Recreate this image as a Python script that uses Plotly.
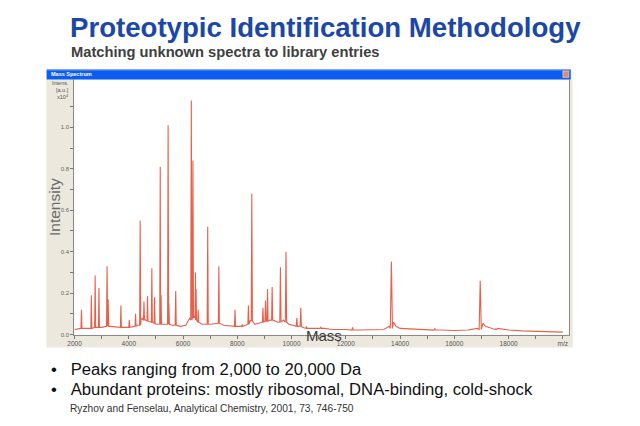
import plotly.graph_objects as go

# ---------------- data ----------------
peak_mass = [2255, 2620, 2760, 2900, 3200, 3240, 3710, 4020, 4250, 4420, 4560, 4690,
             4850, 4950, 5160, 5190, 5450, 5480, 5730, 6305, 6365, 6460, 6480, 6560,
             6910, 7320, 7915, 8180, 8410, 8535, 8945, 9040, 9115, 9285, 9590, 9795,
             10195, 10340, 10550, 11080, 12250, 13680, 15280, 16955, 17530]
peak_int = [0.12, 0.19, 0.285, 0.225, 0.33, 0.17, 0.14, 0.07, 0.10, 0.55, 0.16, 0.185,
            0.32, 0.18, 0.81, 0.19, 1.01, 0.15, 0.21, 1.13, 0.84, 0.30, 0.22, 0.12,
            0.52, 0.33, 0.12, 0.05, 0.14, 0.68, 0.13, 0.165, 0.22, 0.23, 0.325, 0.40,
            0.08, 0.13, 0.04, 0.035, 0.035, 0.353, 0.03, 0.26, 0.028]
peak_base = [0.03, 0.03, 0.035, 0.035, 0.04, 0.04, 0.035, 0.035, 0.04, 0.045, 0.07, 0.065,
             0.06, 0.055, 0.05, 0.05, 0.05, 0.05, 0.045, 0.07, 0.08, 0.08, 0.07, 0.06,
             0.05, 0.055, 0.04, 0.04, 0.05, 0.065, 0.06, 0.065, 0.065, 0.07, 0.06, 0.06,
             0.04, 0.04, 0.03, 0.03, 0.022, 0.03, 0.022, 0.025, 0.025]
peak_width = [18, 18, 18, 18, 20, 18, 18, 18, 18, 20, 18, 18,
              18, 18, 20, 18, 20, 18, 20, 22, 20, 18, 18, 18,
              20, 20, 20, 18, 20, 22, 20, 20, 20, 20, 24, 24,
              24, 24, 24, 24, 26, 40, 30, 40, 30]

base_mass = [2000, 2200, 2500, 3000, 3300, 3600, 4000, 4300, 4450, 4500, 4550, 4600,
             4700, 5000, 5300, 5600, 5900, 6100, 6250, 6420, 6550, 6700, 7000, 7200,
             7500, 7800, 8100, 8300, 8480, 8650, 8900, 9200, 9500, 9700, 9900, 10100,
             10400, 10800, 11200, 11500, 12000, 12500, 13000, 13400, 13600, 13760, 13850,
             14000, 14500, 15000, 15500, 16000, 16500, 16850, 17060, 17150, 17300, 17600,
             18000, 18500, 19000, 19500, 20000]
base_int = [0.025, 0.03, 0.03, 0.035, 0.04, 0.035, 0.035, 0.045, 0.07, 0.078, 0.065, 0.072,
            0.06, 0.05, 0.05, 0.045, 0.04, 0.045, 0.08, 0.09, 0.06, 0.05, 0.05, 0.055,
            0.045, 0.04, 0.04, 0.045, 0.07, 0.05, 0.06, 0.07, 0.06, 0.07, 0.05, 0.04,
            0.035, 0.03, 0.03, 0.025, 0.025, 0.022, 0.022, 0.025, 0.04, 0.06, 0.04,
            0.03, 0.028, 0.025, 0.022, 0.02, 0.022, 0.03, 0.055, 0.04, 0.035, 0.03,
            0.022, 0.018, 0.015, 0.013, 0.012]

x_tick_vals = [2000, 4000, 6000, 8000, 10000, 12000, 14000, 16000, 18000, 20000]
x_tick_text = ["2000", "4000", "6000", "8000", "10000", "12000", "14000", "16000", "18000", "m/z"]
x_minor_vals = [3000, 5000, 7000, 9000, 11000, 13000, 15000, 17000, 19000]
y_tick_vals = [0.0, 0.2, 0.4, 0.6, 0.8, 1.0]
y_tick_text = ["0.0", "0.2", "0.4", "0.6", "0.8", "1.0"]
y_minor_vals = [0.1, 0.3, 0.5, 0.7, 0.9, 1.1]

title = "Proteotypic Identification Methodology"
subtitle = "Matching unknown spectra to library entries"
bullets = ["Peaks ranging from 2,000 to 20,000 Da",
           "Abundant proteins: mostly ribosomal, DNA-binding, cold-shock"]
citation = "Ryzhov and Fenselau, Analytical Chemistry, 2001, 73, 746-750"

# ---------------- build spectrum polyline ----------------
pts = []
for m, v in zip(base_mass, base_int):
    if all(abs(m - pm) > pw for pm, pw in zip(peak_mass, peak_width)):
        pts.append((m, v))
for pm, ph, pb, pw in zip(peak_mass, peak_int, peak_base, peak_width):
    pts += [(pm - pw, pb), (pm, ph), (pm + pw, pb)]
pts.sort(key=lambda p: p[0])
spec_x = [p[0] for p in pts]
spec_y = [p[1] for p in pts]

W, H = 640, 426
def px(x):
    return x / W
def py(y):
    return 1 - y / H

FONT = "Arial, Liberation Sans, sans-serif"

fig = go.Figure()
fig.add_trace(go.Scatter(x=spec_x, y=spec_y, mode="lines",
                         line=dict(color="rgba(228,74,50,0.88)", width=1.1), hoverinfo="skip",
                         showlegend=False))

shapes = [
    dict(type="rect", xref="paper", yref="paper", x0=px(40), x1=px(572), y0=py(350), y1=py(80),
         fillcolor="#ECE8DE", line=dict(width=0), layer="below"),
    dict(type="rect", xref="paper", yref="paper", x0=px(68), x1=px(568), y0=py(337), y1=py(80),
         fillcolor="#FFFFFF", line=dict(width=0), layer="below"),
    dict(type="rect", xref="paper", yref="paper", x0=px(40), x1=px(570), y0=py(80), y1=py(70),
         fillcolor="#0B5CF0", line=dict(width=0), layer="below"),
    dict(type="rect", xref="paper", yref="paper", x0=px(40), x1=px(570), y0=py(71), y1=py(70),
         fillcolor="#6E9BF6", line=dict(width=0), layer="below"),
    dict(type="rect", xref="paper", yref="paper", x0=px(562), x1=px(568), y0=py(78), y1=py(71.5),
         fillcolor="#E08A70", line=dict(color="#F4E0D8", width=0.6), layer="above"),
]

BULLET = "•&nbsp;&nbsp;&nbsp;"
annotations = [
    dict(text="<b>" + title + "</b>", x=px(62), y=py(28), xanchor="left", yanchor="middle",
         font=dict(family=FONT, size=27.6, color="#1B47A8")),
    dict(text="<b>" + subtitle + "</b>", x=px(63), y=py(52), xanchor="left", yanchor="middle",
         font=dict(family=FONT, size=14.7, color="#404040")),
    dict(text="<b>Mass Spectrum</b>", x=px(42), y=py(75), xanchor="left", yanchor="middle",
         font=dict(family=FONT, size=5.5, color="#FFFFFF")),
    dict(text="Intens.", x=px(65), y=py(84), xanchor="right", yanchor="middle",
         font=dict(family=FONT, size=5.5, color="#555555")),
    dict(text="[a.u.]", x=px(65), y=py(91), xanchor="right", yanchor="middle",
         font=dict(family=FONT, size=5.5, color="#555555")),
    dict(text="x10<sup>4</sup>", x=px(65), y=py(98), xanchor="right", yanchor="middle",
         font=dict(family=FONT, size=5.5, color="#555555")),
    dict(text="Intensity", x=px(48), y=py(208), xanchor="center", yanchor="middle", textangle=-90,
         font=dict(family=FONT, size=15.5, color="#6A6A6A")),
    dict(text="Mass", x=px(320), y=py(338), xanchor="center", yanchor="middle",
         font=dict(family=FONT, size=15, color="#3A3A3A")),
    dict(text=BULLET + bullets[0], x=px(42.5), y=py(372), xanchor="left", yanchor="middle",
         font=dict(family=FONT, size=16.65, color="#111111")),
    dict(text=BULLET + bullets[1], x=px(42.5), y=py(392), xanchor="left", yanchor="middle",
         font=dict(family=FONT, size=16.65, color="#111111")),
    dict(text=citation, x=px(62), y=py(411), xanchor="left", yanchor="middle",
         font=dict(family=FONT, size=10.2, color="#333333")),
]
for a in annotations:
    a.update(xref="paper", yref="paper", showarrow=False)

fig.update_layout(
    width=W, height=H, autosize=False,
    margin=dict(l=0, r=0, t=0, b=0, pad=0),
    paper_bgcolor="#FFFFFF", plot_bgcolor="rgba(0,0,0,0)",
    shapes=shapes, annotations=annotations, showlegend=False,
    xaxis=dict(domain=[px(68), px(568)], range=[1990, 20220], showgrid=False, zeroline=False,
               showline=True, linecolor="#8A8A8A", linewidth=1, mirror=False,
               ticks="outside", ticklen=3, tickcolor="#777777", tickwidth=1,
               tickvals=x_tick_vals, ticktext=x_tick_text,
               minor=dict(tickmode="array", tickvals=x_minor_vals, ticks="outside", ticklen=3,
                          tickcolor="#777777", showgrid=False),
               tickfont=dict(family=FONT, size=6.5, color="#555555")),
    yaxis=dict(domain=[py(337), py(80)], range=[0, 1.231], showgrid=False, zeroline=False,
               showline=True, linecolor="#8A8A8A", linewidth=1, mirror=True,
               ticks="outside", ticklen=3, tickcolor="#777777", tickwidth=1,
               tickvals=y_tick_vals, ticktext=y_tick_text,
               minor=dict(tickmode="array", tickvals=y_minor_vals, ticks="outside", ticklen=3,
                          tickcolor="#777777", showgrid=False),
               tickfont=dict(family=FONT, size=6, color="#666666")),
)

fig.write_html("out.html")
